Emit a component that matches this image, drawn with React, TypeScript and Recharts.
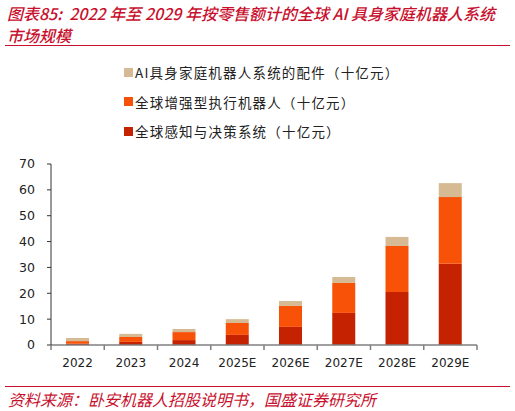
import React from "react";
import { BarChart, Bar, XAxis, YAxis } from "recharts";

const categories = ["2022", "2023", "2024", "2025E", "2026E", "2027E", "2028E", "2029E"];
const perception = [0.5, 1.2, 1.9, 3.9, 7.0, 12.4, 20.5, 31.4];
const actuators = [1.0, 1.9, 3.1, 4.6, 8.1, 11.6, 17.8, 25.8];
const accessories = [1.2, 1.2, 1.2, 1.5, 1.9, 2.3, 3.5, 5.4];
const yTicks = [0, 10, 20, 30, 40, 50, 60, 70];

const seriesNames = [
  "AI具身家庭机器人系统的配件（十亿元）",
  "全球增强型执行机器人（十亿元）",
  "全球感知与决策系统（十亿元）",
];
const seriesColors = ["#D5BA94", "#F85208", "#C42200"];

const titleLine1 = "图表85:  2022 年至 2029 年按零售额计的全球 AI 具身家庭机器人系统";
const titleLine2 = "市场规模";
const sourceText = "资料来源：卧安机器人招股说明书，国盛证券研究所";

const data = categories.map((c, i) => ({
  name: c,
  perception: perception[i],
  actuators: actuators[i],
  accessories: accessories[i],
}));

const W = 515;
const H = 411;
const margin = { top: 164, right: 38, bottom: 36, left: 11 };
const yAxisWidth = 40;
const plotWidth = W - margin.left - margin.right - yAxisWidth;
const step = plotWidth / categories.length;
const redText = "#C8102E";

const XTick = (props: any) => {
  const { x, y, payload, index } = props;
  const half = step / 2;
  return (
    <g>
      <line x1={x - half} x2={x - half} y1={y} y2={y + 5} stroke="#7f7f7f" strokeWidth={1.5} />
      {index === categories.length - 1 && (
        <line x1={x + half} x2={x + half} y1={y} y2={y + 5} stroke="#7f7f7f" strokeWidth={1.5} />
      )}
      <text
        x={x}
        y={y}
        dy={22}
        textAnchor="middle"
        fontSize={12}
        fontFamily="DejaVu Sans, Verdana, sans-serif"
        fill="#222"
      >
        {payload.value}
      </text>
    </g>
  );
};

export default function App() {
  return (
    <div
      style={{
        position: "absolute",
        left: 0,
        top: 0,
        width: W,
        height: H,
        background: "#fff",
        overflow: "hidden",
        fontFamily: "'Noto Sans CJK SC', sans-serif",
      }}
    >
      <div
        style={{
          position: "absolute",
          left: 7,
          top: 2,
          color: redText,
          fontStyle: "italic",
          fontWeight: 500,
          fontSize: 16,
          lineHeight: "22px",
          whiteSpace: "pre",
        }}
      >
        {titleLine1}
        {"\n"}
        {titleLine2}
      </div>
      <div style={{ position: "absolute", left: 5, top: 44.5, width: 505, height: 1.5, background: redText }} />

      {seriesNames.map((n, i) => (
        <div
          key={n}
          style={{
            position: "absolute",
            left: 124,
            top: 62 + i * 29.5,
            height: 20,
            display: "flex",
            alignItems: "center",
            fontSize: 13.5,
            letterSpacing: 1.2,
            color: "#222",
            whiteSpace: "nowrap",
          }}
        >
          <span style={{ display: "inline-block", width: 9, height: 9, background: seriesColors[i], marginRight: 2 }} />
          {n}
        </div>
      ))}

      <div style={{ position: "absolute", left: 0, top: 0 }}>
        <BarChart width={W} height={H} data={data} margin={margin} barSize={23}>
          <XAxis
            dataKey="name"
            tickLine={false}
            tickSize={0}
            tickMargin={0}
            interval={0}
            axisLine={{ stroke: "#7f7f7f", strokeWidth: 1.5 }}
            tick={<XTick />}
            height={30}
          />
          <YAxis
            domain={[0, 70]}
            ticks={yTicks}
            width={yAxisWidth}
            tickSize={4}
            tickMargin={12}
            axisLine={{ stroke: "#333", strokeWidth: 1 }}
            tickLine={{ stroke: "#333" }}
            tick={{ fontSize: 12.5, fill: "#222", fontFamily: "DejaVu Sans, Verdana, sans-serif" }}
            interval={0}
          />
          <Bar dataKey="perception" stackId="a" fill={seriesColors[2]} isAnimationActive={false} />
          <Bar dataKey="actuators" stackId="a" fill={seriesColors[1]} isAnimationActive={false} />
          <Bar dataKey="accessories" stackId="a" fill={seriesColors[0]} isAnimationActive={false} />
        </BarChart>
      </div>

      <div style={{ position: "absolute", left: 5, top: 385.5, width: 505, height: 1.5, background: redText }} />
      <div
        style={{
          position: "absolute",
          left: 8,
          top: 388,
          color: redText,
          fontStyle: "italic",
          fontSize: 16,
          lineHeight: "22px",
          whiteSpace: "nowrap",
        }}
      >
        {sourceText}
      </div>
    </div>
  );
}
